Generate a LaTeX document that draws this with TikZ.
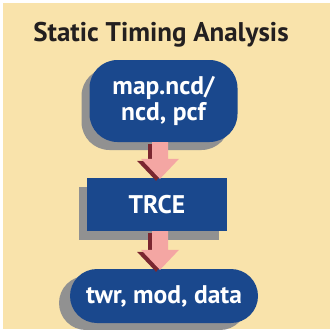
\documentclass[tikz,border=0pt]{standalone}
\usepackage{fontspec}
\setmainfont{PT Sans}
\usetikzlibrary{calc}

\definecolor{panel}{RGB}{249,227,171}
\definecolor{boxblue}{RGB}{26,72,141}
\definecolor{arrowpink}{RGB}{244,166,163}
\definecolor{arrowdark}{RGB}{122,38,48}
\definecolor{greyshade}{RGB}{145,145,145}
\definecolor{titleink}{RGB}{35,31,32}

\tikzset{
  flowbox/.style={fill=boxblue, text=white, font=\fontsize{25.5}{27}\selectfont\bfseries,
    align=center, inner sep=0pt},
  shadowbox/.style={fill=greyshade, inner sep=0pt},
  srcshape/.style={minimum width=148pt, minimum height=82pt, rounded corners=28pt},
  trceshape/.style={minimum width=140pt, minimum height=53pt},
  outshape/.style={minimum width=188pt, minimum height=54pt, rounded corners=27pt},
}

% outline of a down-pointing block arrow from node #1 to node #2,
% running along the x position of (flowaxis), moved by (#3,#4)
\newcommand{\arrowoutline}[4]{%
  ($(flowaxis |- #1.south)+(-8+#3,#4)$) --
  ($(flowaxis |- #2.north)+(-8+#3,-19+#4)$) --
  ($(flowaxis |- #2.north)+(-19+#3,-19+#4)$) --
  ($(flowaxis |- #2.north)+(#3,1+#4)$) --
  ($(flowaxis |- #2.north)+(19+#3,-19+#4)$) --
  ($(flowaxis |- #2.north)+(8+#3,-19+#4)$) --
  ($(flowaxis |- #1.south)+(8+#3,#4)$) -- cycle}

\begin{document}
\begin{tikzpicture}[x=1pt, y=-1pt]
  \useasboundingbox (0,0) rectangle (331,329);
  \fill[panel] (3,3) rectangle (330,329);

  \node[text=titleink, font=\fontsize{27}{29}\selectfont\bfseries]
    (title) at (161,35) {Static Timing Analysis};

  \coordinate (flowaxis) at (160,0);

  % grey drop shadows, offset down and to the left
  \node[shadowbox, srcshape]  (src-sh)  at (155.5,109) {};
  \node[shadowbox, trceshape] (trce-sh) at (149,213.5) {};
  \node[shadowbox, outshape]  (out-sh)  at (153,303) {};

  \node[flowbox, srcshape]  (src)  at (163.5,101) {map.ncd/\\[-1pt]ncd, pcf};
  \node[flowbox, trceshape] (trce) at (157,204.5) {TRCE};
  \node[flowbox, outshape]  (out)  at (164,296) {twr, mod, data};

  % block arrows: dark offset copy first, pink body on top
  \fill[arrowdark] \arrowoutline{src}{trce}{-4}{2};
  \fill[arrowpink] \arrowoutline{src}{trce}{0}{0};
  \fill[arrowdark] \arrowoutline{trce}{out}{-4}{2};
  \fill[arrowpink] \arrowoutline{trce}{out}{0}{0};
\end{tikzpicture}
\end{document}
